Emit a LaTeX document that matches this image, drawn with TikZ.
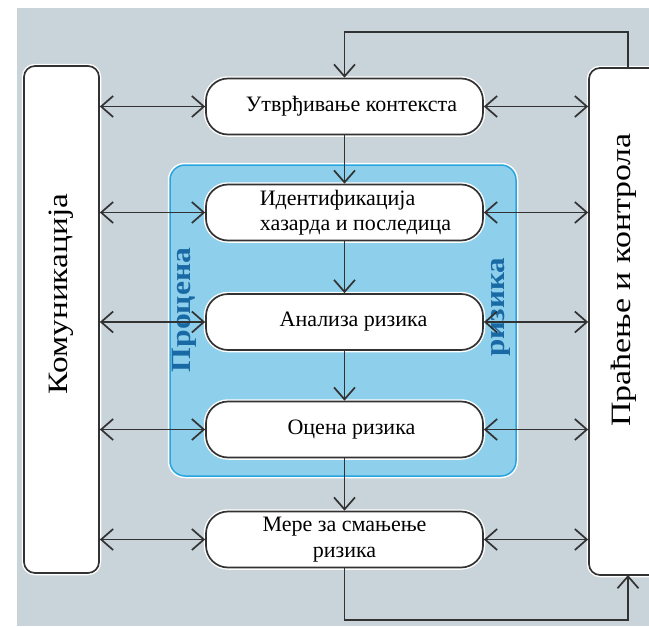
\documentclass[tikz,border=0pt]{standalone}
\usepackage{fontspec}
\setmainfont{Liberation Serif}
\usetikzlibrary{arrows.meta,calc}
\definecolor{bg}{RGB}{200,211,218}
\definecolor{panelfill}{RGB}{142,207,235}
\definecolor{panelline}{RGB}{40,165,222}
\definecolor{ink}{RGB}{50,50,50}
\definecolor{bluetext}{RGB}{25,105,165}
\begin{document}
\begin{tikzpicture}[x=1pt,y=-1pt,
  >={Straight Barb[length=12pt,width=21pt,line width=1.7pt]},
  halo/.style={preaction={draw=white,line width=4.5pt}},
  sidebox/.style={draw=ink,line width=1.7pt,fill=white,rounded corners=11pt,halo,inner sep=0pt},
  proc/.style={draw=ink,line width=1.7pt,fill=white,rounded corners=22pt,halo,
    minimum width=277pt,minimum height=56pt,inner sep=0pt,
    font=\fontsize{22}{25.5}\selectfont},
  panelbox/.style={draw=panelline,line width=1.5pt,fill=panelfill,rounded corners=15pt,halo,inner sep=0pt},
  sidetext/.style={font=\fontsize{28}{32}\selectfont,text=black,inner sep=0pt},
  bluelbl/.style={font=\fontsize{28}{32}\selectfont\bfseries,text=bluetext,inner sep=0pt},
  conn/.style={draw=ink,line width=1.7pt}
]
\useasboundingbox (0,0) rectangle (649,627);
\clip (0,0) rectangle (649,627);
\fill[bg] (17,8) rectangle (649,626);

% side boxes
\node[sidebox,minimum width=75pt,minimum height=507pt] (L) at (61.5,319.5) {};
\node[sidebox,minimum width=80pt,minimum height=507pt] (R) at (629,321.5) {};

% risk assessment panel
\node[panelbox,minimum width=346pt,minimum height=311pt] (P) at (343,320.5) {};

% process boxes
\node[proc] (b1) at (344.5,106.5) {\hspace*{14pt}Утврђивање контекста};
\node[proc,align=left] (b2) at (344.5,212.5) {\hspace*{22pt}Идентификација\\\hspace*{22pt}хазарда и последица};
\node[proc] (b3) at (344.5,322) {\hspace*{18pt}Анализа ризика};
\node[proc] (b4) at (344.5,429.5) {\hspace*{14pt}Оцена ризика};
\node[proc,align=center] (b5) at (344.5,539.5) {Мере за смањење\\ризика};

% labels
\node[sidetext,rotate=90] (tL) at (61,294) {\scalebox{1.19}[1]{Комуникација}};
\node[sidetext,rotate=90] (tR) at (624,280) {\scalebox{1.21}[1]{Праћење и контрола}};
\node[bluelbl,rotate=90] (tP) at (184,310) {\scalebox{1.13}[1]{Процена}};
\node[bluelbl,rotate=90] (tQ) at (501,307) {\scalebox{1.11}[1]{ризика}};

% horizontal double arrows
\foreach \b in {b1,b2,b3,b4,b5}{
  \draw[conn,<->] (L.east |- \b.west) -- (\b.west);
  \draw[conn,<->] (\b.east) -- (R.west |- \b.east);
}

% vertical flow
\draw[conn,->] (b1) -- (b2);
\draw[conn,->] (b2) -- (b3);
\draw[conn,->] (b3) -- (b4);
\draw[conn,->] (b4) -- (b5);

% feedback loops
\coordinate (rt) at (628,68);
\coordinate (rb) at (628,575);
\draw[conn,->] (rt) -- (rt |- 0,32) -| (b1.north);
\draw[conn,->] (b5.south) -- (b5.south |- 0,620) -| (rb);
\end{tikzpicture}
\end{document}
